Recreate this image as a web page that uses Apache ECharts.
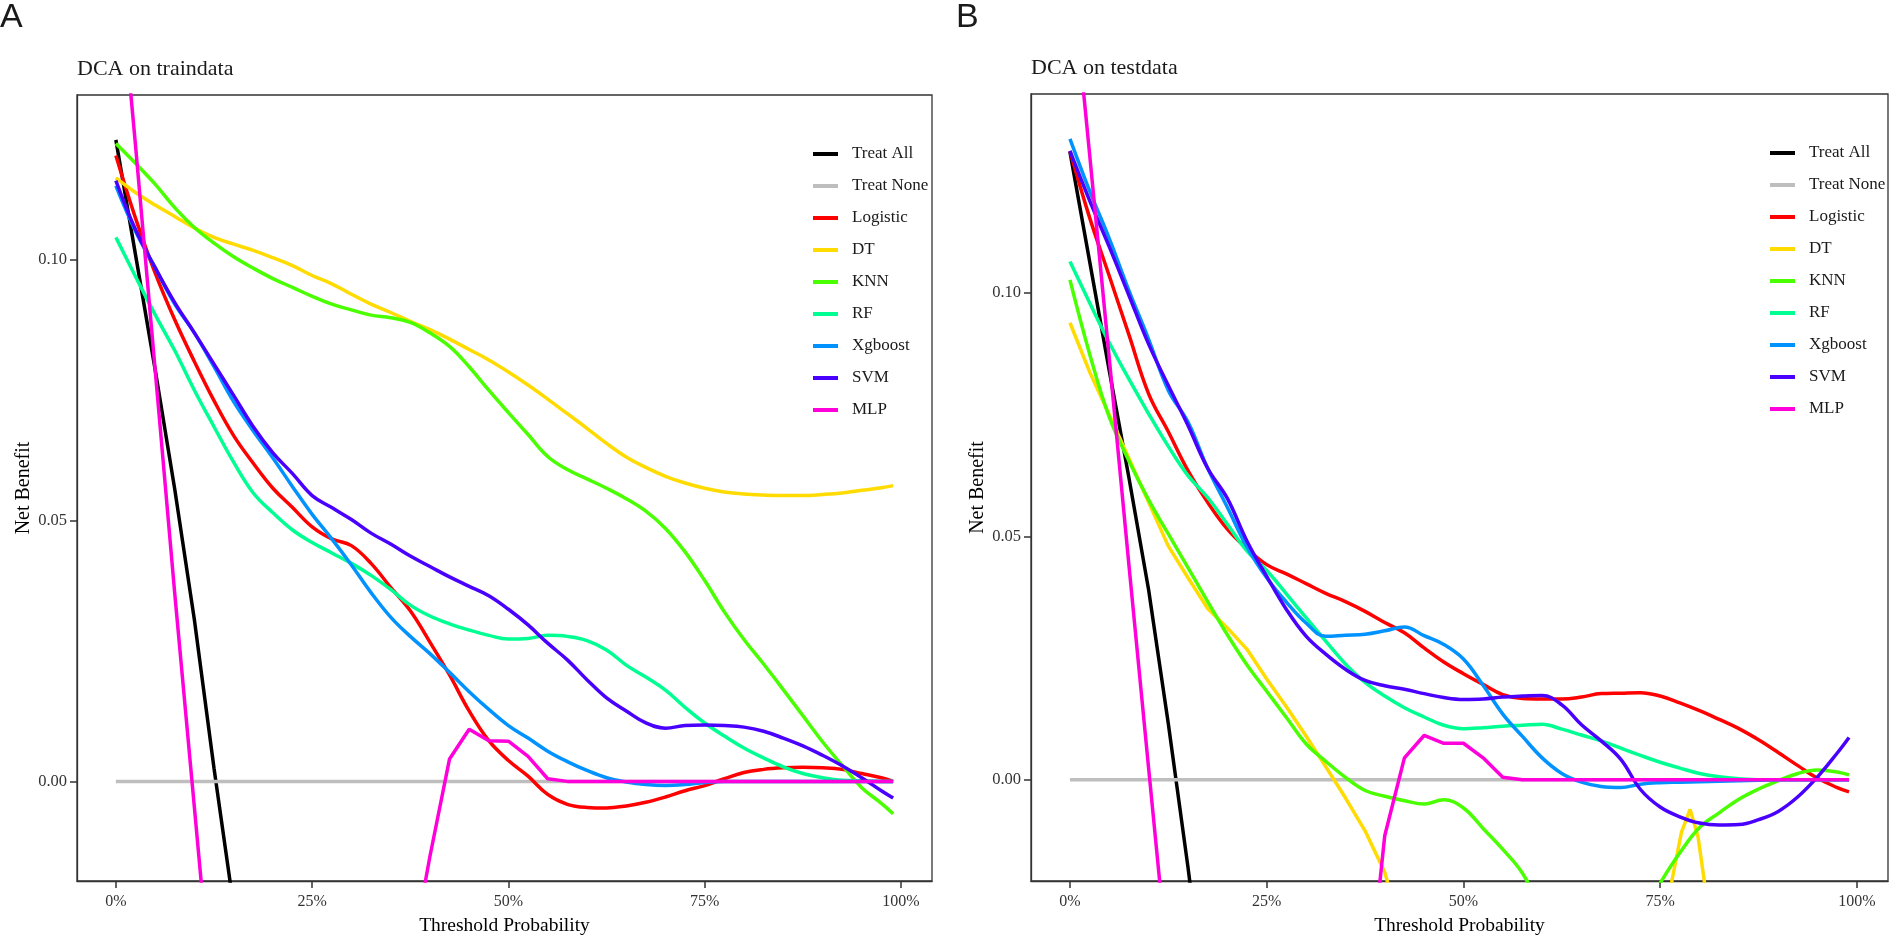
<!DOCTYPE html>
<html>
<head>
<meta charset="utf-8">
<title>DCA</title>
<script src="https://cdn.jsdelivr.net/npm/echarts@6/dist/echarts.min.js"></script>
<style>
  html, body { margin: 0; padding: 0; background: #fff; }
  #main { width: 1890px; height: 941px; }
</style>
</head>
<body>
<div id="main"></div>
<script>
var chart = echarts.init(document.getElementById('main'));

// threshold grid shared by most curves
var thr = [0, 0.025, 0.05, 0.075, 0.1, 0.125, 0.15, 0.175, 0.2, 0.225, 0.25, 0.275, 0.3, 0.325, 0.35, 0.375,
    0.4, 0.425, 0.45, 0.475, 0.5, 0.525, 0.55, 0.575, 0.6, 0.625, 0.65, 0.675, 0.7, 0.725, 0.75, 0.775,
    0.8, 0.825, 0.85, 0.875, 0.9, 0.925, 0.95, 0.975, 0.99];

var modelNames = ['Treat All', 'Treat None', 'Logistic', 'DT', 'KNN', 'RF', 'Xgboost', 'SVM', 'MLP'];
var modelColors = ['#000000', '#BEBEBE', '#FF0000', '#FFDB00', '#49FF00', '#00FF92', '#0092FF', '#4900FF', '#FF00DB'];

var xTicks = [0, 0.25, 0.5, 0.75, 1];
var yTicks = [0, 0.05, 0.1];

var noneX = [0, 0.99];
var noneY = [0, 0];

// ---- train data (panel A) ----
var trainTreatAll = [0.123, 0.101, 0.079, 0.056, 0.031, 0.0025, -0.024];
var trainLogistic = [0.120, 0.108, 0.0975, 0.0885, 0.0805, 0.0730, 0.0663, 0.0610, 0.0562, 0.0525, 0.0488, 0.0465, 0.0452, 0.0418,
    0.0372, 0.0327, 0.0267, 0.0204, 0.0135, 0.0078, 0.0040, 0.0010, -0.0025, -0.0044, -0.0050, -0.0051, -0.0047, -0.0040,
    -0.0030, -0.0018, -0.0008, 0.0005, 0.0017, 0.0023, 0.0026, 0.0027, 0.0026, 0.0023, 0.0015, 0.0007, 0.0];
var trainDT = [0.1157, 0.1129, 0.1105, 0.1083, 0.1061, 0.1043, 0.1030, 0.1018, 0.1004, 0.0989, 0.0970, 0.0954, 0.0934, 0.0915,
    0.0899, 0.0882, 0.0866, 0.0848, 0.0828, 0.0808, 0.0785, 0.0760, 0.0733, 0.0705, 0.0677, 0.0648, 0.0622, 0.0602,
    0.0585, 0.0572, 0.0562, 0.0555, 0.0551, 0.0549, 0.0548, 0.0548, 0.0550, 0.0553, 0.0558, 0.0563, 0.0567];
var trainKNN = [0.1223, 0.1185, 0.1145, 0.1100, 0.1062, 0.1032, 0.1006, 0.0984, 0.0964, 0.0947, 0.0930, 0.0915, 0.0904, 0.0894,
    0.0889, 0.0880, 0.0860, 0.0834, 0.0795, 0.0750, 0.0707, 0.0665, 0.0623, 0.0598, 0.0580, 0.0562, 0.0542, 0.0518,
    0.0485, 0.0440, 0.0385, 0.0325, 0.0272, 0.0225, 0.0176, 0.0126, 0.0076, 0.0031, -0.0012, -0.0042, -0.0062];
var trainRF = [0.1043, 0.0968, 0.0895, 0.0826, 0.0750, 0.0680, 0.0612, 0.0553, 0.0515, 0.0482, 0.0458, 0.0438, 0.0418, 0.0395,
    0.0368, 0.0338, 0.0317, 0.0302, 0.0290, 0.0280, 0.0273, 0.0274, 0.0280, 0.0278, 0.0270, 0.0252, 0.0223, 0.0200,
    0.0175, 0.0142, 0.0112, 0.0087, 0.0064, 0.0045, 0.0028, 0.0015, 0.0007, 0.0002, 0.0001, 0, 0];
var trainXgboost = [0.1142, 0.1055, 0.0985, 0.0915, 0.0860, 0.0795, 0.0728, 0.0672, 0.0620, 0.0565, 0.0512, 0.0465, 0.0415, 0.0362,
    0.0315, 0.0278, 0.0245, 0.0209, 0.0172, 0.0138, 0.0107, 0.0083, 0.0058, 0.0038, 0.0021, 0.0007, -0.0001, -0.0006,
    -0.0008, -0.0006, -0.0002, 0, 0, 0, 0, 0, 0, 0, 0, 0, 0];
var trainSVM = [0.1152, 0.1058, 0.0985, 0.0918, 0.0860, 0.0800, 0.0740, 0.0680, 0.0630, 0.0590, 0.0548, 0.0525, 0.0502, 0.0476,
    0.0455, 0.0432, 0.0412, 0.0392, 0.0374, 0.0356, 0.0330, 0.0300, 0.0265, 0.0233, 0.0195, 0.0160, 0.0135, 0.0112,
    0.0102, 0.0107, 0.0108, 0.0107, 0.0104, 0.0096, 0.0083, 0.0068, 0.0050, 0.0030, 0.0007, -0.0018, -0.0032];
var trainMLP = [0.163, 0.122, 0.079, 0.036, -0.005, -0.046, null, null, null, null, null, null, null, null,
    null, -0.035, -0.0144, 0.0043, 0.0100, 0.0078, 0.0077, 0.0048, 0.0005, 0, 0, 0, 0, 0,
    0, 0, 0, 0, 0, 0, 0, 0, 0, 0, 0, 0, 0];

// ---- test data (panel B) ----
var testTreatAll = [0.129, 0.1065, 0.084, 0.062, 0.039, 0.0115, -0.018, -0.050];
var testLogistic = [0.1292, 0.1155, 0.1035, 0.0914, 0.0793, 0.0715, 0.0635, 0.0570, 0.0515, 0.0475, 0.0442, 0.0423, 0.0403, 0.0383,
    0.0366, 0.0346, 0.0323, 0.0302, 0.0271, 0.0242, 0.0218, 0.0196, 0.0175, 0.0167, 0.0166, 0.0166, 0.0170, 0.0177,
    0.0178, 0.0179, 0.0172, 0.0158, 0.0142, 0.0124, 0.0105, 0.0082, 0.0056, 0.0029, 0.0003, -0.0016, -0.0025];
// DT on test data has its own thresholds (narrow spike near 79%)
var testDTx = [0, 0.025, 0.05, 0.075, 0.1, 0.125, 0.15, 0.175, 0.2, 0.225, 0.25, 0.275, 0.3, 0.325, 0.35, 0.375,
    0.4, 0.425, 0.6, 0.75, 0.765, 0.777, 0.788, 0.798, 0.806, 0.825];
var testDT = [0.0939, 0.0838, 0.0750, 0.0660, 0.0570, 0.0480, 0.0415, 0.0352, 0.0312, 0.0268, 0.0207, 0.0150, 0.0090, 0.0027,
    -0.0037, -0.0105, -0.0190, -0.0330, null, -0.0450, -0.0207, -0.0108, -0.0061, -0.0116, -0.0207, -0.0500];
var testKNN = [0.1027, 0.0875, 0.0745, 0.0655, 0.0575, 0.0505, 0.0436, 0.0366, 0.0298, 0.0236, 0.0182, 0.0128, 0.0074, 0.0038,
    0.0005, -0.0022, -0.0034, -0.0043, -0.0050, -0.0041, -0.0058, -0.0100, -0.0143, -0.0192, -0.0270, null, null, null,
    null, -0.0280, -0.0212, -0.0150, -0.0098, -0.0068, -0.0040, -0.0019, -0.0002, 0.0013, 0.0020, 0.0016, 0.0010];
var testRF = [0.1065, 0.0980, 0.0898, 0.0823, 0.0752, 0.0685, 0.0625, 0.0580, 0.0525, 0.0470, 0.0430, 0.0382, 0.0333, 0.0285,
    0.0238, 0.0200, 0.0172, 0.0148, 0.0129, 0.0112, 0.0105, 0.0107, 0.0110, 0.0112, 0.0114, 0.0104, 0.0092, 0.0080,
    0.0065, 0.0050, 0.0036, 0.0024, 0.0013, 0.0006, 0.0002, 0, 0, 0, 0, 0, 0];
var testXgboost = [0.1317, 0.1210, 0.1112, 0.1005, 0.0905, 0.0800, 0.0735, 0.0640, 0.0560, 0.0478, 0.0415, 0.0365, 0.0322, 0.0295,
    0.0297, 0.0299, 0.0306, 0.0314, 0.0296, 0.0278, 0.0248, 0.0194, 0.0135, 0.0089, 0.0045, 0.0013, -0.0005, -0.0014,
    -0.0016, -0.0009, -0.0006, -0.0005, -0.0004, -0.0003, -0.0002, -0.0001, 0, 0, 0, 0, 0];
var testSVM = [0.1292, 0.1190, 0.1095, 0.0995, 0.0895, 0.0810, 0.0728, 0.0640, 0.0578, 0.0490, 0.0418, 0.0350, 0.0295, 0.0258,
    0.0227, 0.0204, 0.0193, 0.0186, 0.0177, 0.0169, 0.0165, 0.0166, 0.0170, 0.0172, 0.0173, 0.0154, 0.0113, 0.0080,
    0.0042, -0.0020, -0.0056, -0.0076, -0.0089, -0.0093, -0.0092, -0.0082, -0.0065, -0.0035, 0.0006, 0.0055, 0.0087];
var testMLP = [0.170, 0.1285, 0.0865, 0.044, 0.0023, -0.039, null, null, null, null, null, null, null, null,
    null, -0.050, -0.0115, 0.0045, 0.0091, 0.0075, 0.0075, 0.0045, 0.0005, 0, 0, 0, 0, 0,
    0, 0, 0, 0, 0, 0, 0, 0, 0, 0, 0, 0, 0];

function zip(xs, ys) {
    return ys.map(function (y, i) { return [xs[i], y]; });
}

var panels = [
    [zip(thr, trainTreatAll), zip(noneX, noneY), zip(thr, trainLogistic), zip(thr, trainDT), zip(thr, trainKNN),
        zip(thr, trainRF), zip(thr, trainXgboost), zip(thr, trainSVM), zip(thr, trainMLP)],
    [zip(thr, testTreatAll), zip(noneX, noneY), zip(thr, testLogistic), zip(testDTx, testDT), zip(thr, testKNN),
        zip(thr, testRF), zip(thr, testXgboost), zip(thr, testSVM), zip(thr, testMLP)]
];

var serif = 'Liberation Serif';
var axisColor = '#333';
var series = [];
panels.forEach(function (sets, p) {
    sets.forEach(function (d, i) {
        var sharp = (i === 0 || i === 8 || (p === 1 && i === 3));
        series.push({
            name: modelNames[i],
            type: 'line',
            xAxisIndex: p,
            yAxisIndex: p,
            data: d,
            symbol: 'none',
            smooth: sharp ? false : 0.4,
            connectNulls: false,
            clip: true,
            lineStyle: { width: 3.5, color: modelColors[i] },
            itemStyle: { color: modelColors[i] },
            emphasis: { disabled: true },
            z: 2 + i
        });
    });
});

function xAxisFor(p) {
    return {
        gridIndex: p,
        type: 'value',
        min: -0.0495,
        max: 1.0395,
        splitLine: { show: false },
        axisLine: { show: true, onZero: false, lineStyle: { color: axisColor, width: 1.3 } },
        axisTick: { show: true, length: 7, customValues: xTicks, lineStyle: { color: axisColor, width: 1.5 } },
        axisLabel: {
            customValues: xTicks, margin: 13, fontFamily: serif, fontSize: 16, color: axisColor,
            formatter: function (v) { return Math.round(v * 100) + '%'; }
        },
        name: 'Threshold Probability',
        nameLocation: 'middle',
        nameGap: 35,
        nameTextStyle: { fontFamily: serif, fontSize: 19.5, color: '#000' }
    };
}

function yAxisFor(p, lo, hi) {
    return {
        gridIndex: p,
        type: 'value',
        min: lo,
        max: hi,
        splitLine: { show: false },
        axisLine: { show: true, onZero: false, lineStyle: { color: axisColor, width: 1.3 } },
        axisTick: { show: true, length: 7, customValues: yTicks, lineStyle: { color: axisColor, width: 1.5 } },
        axisLabel: {
            customValues: yTicks, margin: 10, fontFamily: serif, fontSize: 16.5, color: axisColor,
            formatter: function (v) { return v.toFixed(2); }
        },
        name: 'Net Benefit',
        nameLocation: 'middle',
        nameRotate: 90,
        nameGap: 42,
        nameTextStyle: { fontFamily: serif, fontSize: 20, color: '#000' }
    };
}

function legendAt(left, top) {
    return {
        data: modelNames,
        orient: 'vertical',
        left: left,
        top: top,
        icon: 'rect',
        itemWidth: 25,
        itemHeight: 4,
        itemGap: 12,
        selectedMode: false,
        textStyle: { fontFamily: serif, fontSize: 17, color: '#1a1a1a', lineHeight: 20, padding: [0, 0, 0, 9] }
    };
}

var option = {
    backgroundColor: '#fff',
    animation: false,
    grid: [
        { left: 77, top: 95, width: 855, height: 796, show: true, borderColor: axisColor, borderWidth: 1.3 },
        { left: 1031, top: 94, width: 857, height: 794, show: true, borderColor: axisColor, borderWidth: 1.3 }
    ],
    xAxis: [xAxisFor(0), xAxisFor(1)],
    yAxis: [yAxisFor(0, -0.0191, 0.1316), yAxisFor(1, -0.0208, 0.1409)],
    legend: [legendAt(808, 139), legendAt(1765, 138)],
    graphic: [
        { type: 'text', left: 0, top: 1, style: { text: 'A', font: '34px "Liberation Sans"', fill: '#1a1a1a' } },
        { type: 'text', left: 956, top: 1, style: { text: 'B', font: '34px "Liberation Sans"', fill: '#1a1a1a' } },
        { type: 'text', left: 77, top: 58, style: { text: 'DCA on traindata', font: '22px "Liberation Serif"', fill: '#1a1a1a' } },
        { type: 'text', left: 1031, top: 57, style: { text: 'DCA on testdata', font: '22px "Liberation Serif"', fill: '#1a1a1a' } }
    ],
    series: series
};
chart.setOption(option);
window.onresize = chart.resize;
</script>
</body>
</html>
